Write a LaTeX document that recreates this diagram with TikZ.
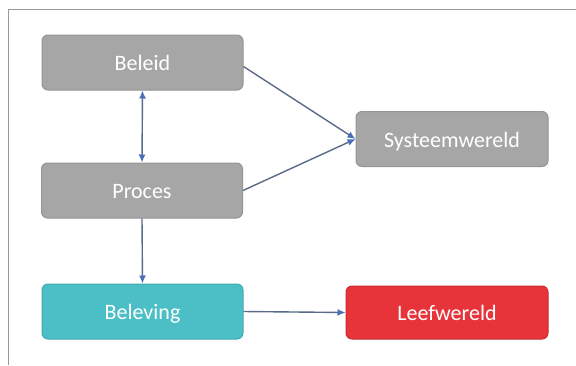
\documentclass[tikz,border=0pt]{standalone}
\usepackage{fontspec}
\setmainfont{Carlito}
\usetikzlibrary{arrows.meta}
\definecolor{framecol}{HTML}{9A9A9A}
\definecolor{grayfill}{HTML}{A6A6A6}
\definecolor{grayline}{HTML}{949494}
\definecolor{tealfill}{HTML}{4BBFC5}
\definecolor{tealline}{HTML}{40ABB1}
\definecolor{redfill}{HTML}{E6343A}
\definecolor{redline}{HTML}{C92C32}
\definecolor{arrline}{HTML}{5A6A88}
\definecolor{arrhead}{HTML}{4A6FB5}
\tikzset{
  box/.style={rounded corners=6pt, minimum width=201pt, minimum height=55pt,
    text=white, font=\fontsize{22}{24}\selectfont, line width=1pt, inner sep=0pt,
    text depth=0pt, text height=16pt},
  graybox/.style={box, fill=grayfill, draw=grayline},
  tealbox/.style={box, fill=tealfill, draw=tealline},
  redbox/.style={box, fill=redfill, draw=redline},
  arr/.style={draw=arrline, line width=1.4pt,
    -{Latex[length=8pt,width=7pt,color=arrhead]}},
  dblarr/.style={draw=arrline, line width=1.4pt,
    {Latex[length=8pt,width=7pt,color=arrhead]}-{Latex[length=8pt,width=7pt,color=arrhead]}}
}
\begin{document}
\begin{tikzpicture}[x=1pt,y=-1pt]
\useasboundingbox (0,0) rectangle (576,365);
\draw[framecol, line width=1.6pt] (8.5,365) -- (8.5,9.5) -- (576,9.5);
\node[graybox] (beleid) at (142.5,62.5) {Beleid};
\node[graybox] (proces) at (142,190.5) {Proces};
\node[graybox, minimum width=192pt] (systeem) at (452,139) {Systeemwereld};
\node[tealbox] (beleving) at (142.5,311.5) {Beleving};
\node[redbox, minimum width=202pt, minimum height=53pt] (leef) at (447,312.5) {Leefwereld};
\draw[dblarr] (beleid.south) -- (proces.north);
\draw[arr] (proces.south) -- (beleving.north);
\draw[arr] ([yshift=-4pt]beleid.east) -- (systeem.west);
\draw[arr] (proces.east) -- (systeem.west);
\draw[arr] (beleving.east) -- (leef.west);
\end{tikzpicture}
\end{document}
